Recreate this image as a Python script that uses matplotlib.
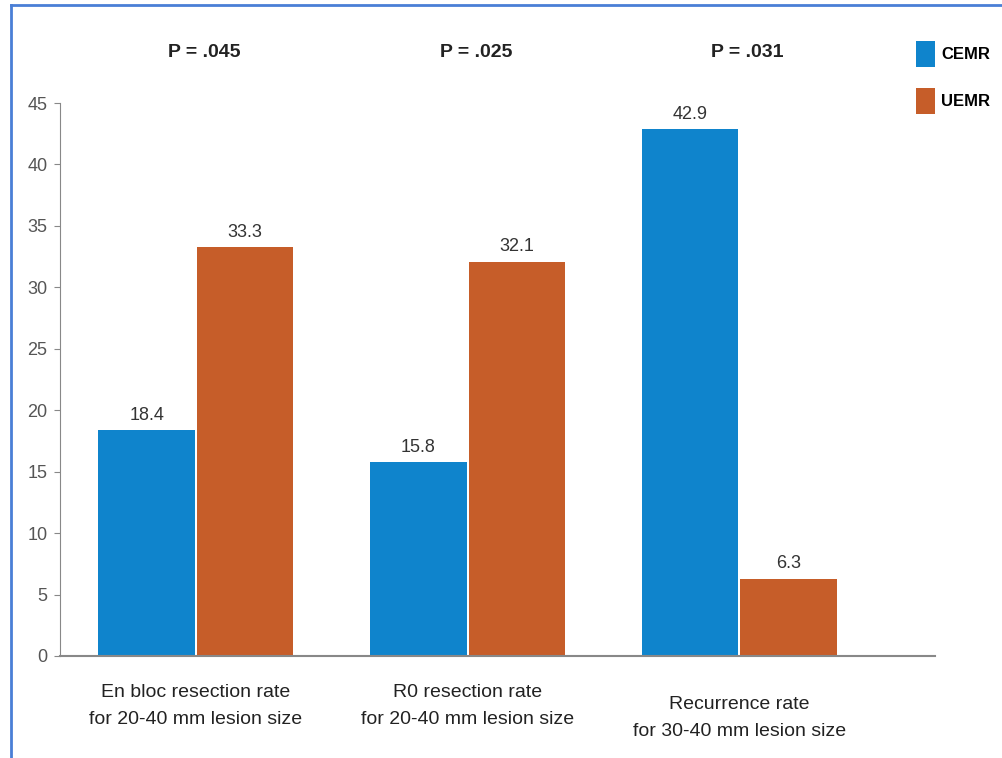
import numpy as np
import matplotlib.pyplot as plt
from matplotlib.lines import Line2D

# data
categories = ["En bloc resection rate\nfor 20-40 mm lesion size",
              "R0 resection rate\nfor 20-40 mm lesion size",
              "Recurrence rate\nfor 30-40 mm lesion size"]
cemr = [18.4, 15.8, 42.9]
uemr = [33.3, 32.1, 6.3]
p_values = ["P = .045", "P = .025", "P = .031"]
series_names = ["CEMR", "UEMR"]

blue = "#0f84cc"
orange = "#c65d29"
plt.rcParams["font.family"] = ["Liberation Sans", "DejaVu Sans"]

fig = plt.figure(figsize=(10.02, 7.58), dpi=100)
ax = fig.add_axes([0.06, 0.1346, 0.873, 0.7295])

x = np.arange(len(categories))
w = 0.355
b1 = ax.bar(x - w / 2 - 0.004, cemr, w, color=blue, label=series_names[0])
b2 = ax.bar(x + w / 2 + 0.004, uemr, w, color=orange, label=series_names[1])

for bars, vals in [(b1, cemr), (b2, uemr)]:
    for r, v in zip(bars, vals):
        ax.text(r.get_x() + r.get_width() / 2, v + 0.5, f"{v:.1f}",
                ha="center", va="bottom", fontsize=13, color="#333333")

ax.set_xlim(-0.5, 2.72)
ax.set_ylim(0, 45)
ax.set_yticks(range(0, 46, 5))
ax.tick_params(axis="y", labelsize=13, labelcolor="#555555", color="#888888",
               length=4, pad=5)
ax.set_xticks(x)
ax.set_xticklabels(categories, fontsize=14, color="#222222", linespacing=1.8)
ax.tick_params(axis="x", length=0, pad=20)
for lbl in ax.get_xticklabels()[2:]:
    lbl.set_y(-0.022)

for s in ["top", "right"]:
    ax.spines[s].set_visible(False)
ax.spines["left"].set_color("#888888")
ax.spines["bottom"].set_color("#888888")
ax.spines["bottom"].set_linewidth(1.5)

for xi, p in zip(x, p_values):
    ax.text(xi + 0.03, 1.092, p, transform=ax.get_xaxis_transform(),
            ha="center", va="center", fontsize=14, fontweight="bold",
            color="#222222")

leg = fig.legend(loc="upper left", bbox_to_anchor=(0.908, 0.955),
                 frameon=False, fontsize=12, handlelength=1.1,
                 handleheight=2.0, handletextpad=0.4, labelspacing=1.3,
                 borderaxespad=0)
for t in leg.get_texts():
    t.set_fontweight("bold")

# blue frame on top and left
fig.add_artist(Line2D([0.011, 1.0], [0.994, 0.994], color="#4a7fd6", lw=2))
fig.add_artist(Line2D([0.011, 0.011], [0.0, 0.994], color="#4a7fd6", lw=2))

fig.savefig("out.png", dpi=100)
